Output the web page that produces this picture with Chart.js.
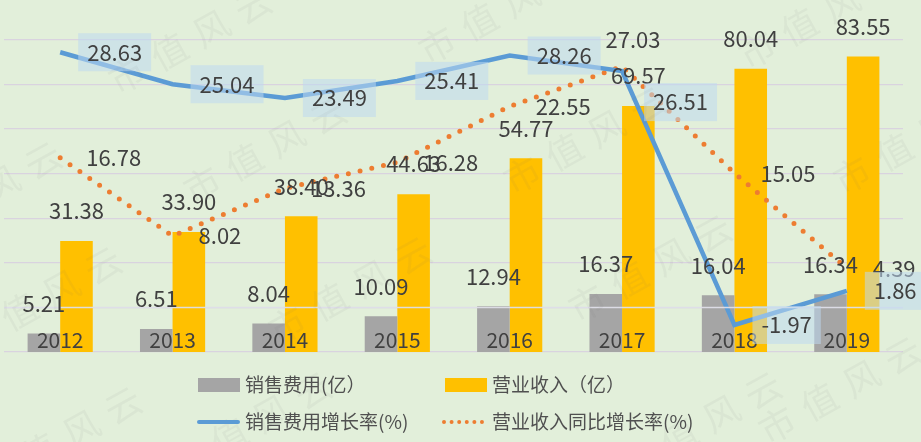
<!DOCTYPE html>
<html>
<head>
<meta charset="utf-8">
<script src="https://cdn.jsdelivr.net/npm/chart.js@4.4.1/dist/chart.umd.min.js"></script>
<style>
  html, body { margin: 0; padding: 0; background: #e2efda; }
  #wrap { position: relative; width: 921px; height: 442px; overflow: hidden; background: #e2efda; }
  #c { position: absolute; left: 0; top: 0; }
  .lg { position: absolute; font: 19px "Noto Sans CJK SC", sans-serif; color: #505050; line-height: 1; white-space: nowrap; }
  .sw { position: absolute; }
</style>
</head>
<body>
<div id="wrap">
  <canvas id="c" width="921" height="442"></canvas>
  <div id="legend"></div>
</div>
<script>
// data
const years = ["2012", "2013", "2014", "2015", "2016", "2017", "2018", "2019"];
const expense = [5.21, 6.51, 8.04, 10.09, 12.94, 16.37, 16.04, 16.34];
const revenue = [31.38, 33.90, 38.40, 44.63, 54.77, 69.57, 80.04, 83.55];
const expenseGrowth = [28.63, 25.04, 23.49, 25.41, 28.26, 26.51, -1.97, 1.86];
const revenueGrowth = [16.78, 8.02, 13.36, 16.28, 22.55, 27.03, 15.05, 4.39];

const seriesNames = ["销售费用(亿）", "营业收入（亿）", "销售费用增长率(%)", "营业收入同比增长率(%)"];

const numFont = '22px "Noto Sans CJK SC", sans-serif';
const textColor = "#404040";

// watermark spots (style only)
const marks = [[190, 40], [265, 150], [-20, 195], [40, 300], [350, 290], [585, 140],
  [650, 268], [820, 15], [915, 140], [500, 10], [840, 390], [250, 425], [700, 425], [60, 440]];

const labelPlugin = {
  id: "labels",
  afterDatasetsDraw(chart) {
    const ctx = chart.ctx;
    const area = chart.chartArea;
    const y1 = chart.scales.y1;
    const xs = chart.scales.x;

    // zero line of the percent axis runs over the bars
    ctx.save();
    ctx.strokeStyle = "rgba(222,222,232,0.95)";
    ctx.lineWidth = 1.5;
    const z = Math.round(y1.getPixelForValue(0)) + 0.5;
    ctx.beginPath();
    ctx.moveTo(area.left, z);
    ctx.lineTo(area.right, z);
    ctx.stroke();

    ctx.font = numFont;
    ctx.fillStyle = textColor;
    ctx.textBaseline = "middle";

    // bar labels
    [0, 1].forEach((di) => {
      const meta = chart.getDatasetMeta(di);
      const vals = chart.data.datasets[di].data;
      ctx.textAlign = "center";
      meta.data.forEach((bar, i) => {
        ctx.fillText(vals[i].toFixed(2), bar.x, bar.y - 30);
      });
    });

    // category labels sit inside the plot
    ctx.font = '21px "Noto Sans CJK SC", sans-serif';
    ctx.textAlign = "center";
    years.forEach((yr, i) => {
      ctx.fillText(yr, xs.getPixelForValue(i), area.bottom - 12);
    });

    ctx.font = numFont;

    // revenue growth labels (plain)
    const mR = chart.getDatasetMeta(3);
    mR.data.forEach((pt, i) => {
      const t = revenueGrowth[i].toFixed(2);
      if (i === 5) {
        ctx.textAlign = "center";
        ctx.fillText(t, pt.x + 11, pt.y - 27);
      } else {
        ctx.textAlign = "left";
        ctx.fillText(t, pt.x + 26, pt.y);
      }
    });

    // expense growth labels with boxes
    const mE = chart.getDatasetMeta(2);
    mE.data.forEach((pt, i) => {
      const t = expenseGrowth[i].toFixed(2);
      let bx = pt.x + 18, cy = pt.y;
      if (i === 5) { bx = pt.x + 22; cy = pt.y + 31; }
      const w = ctx.measureText(t).width + 18;
      ctx.fillStyle = "rgba(190,216,240,0.55)";
      ctx.fillRect(bx, cy - 19, w, 38);
      ctx.fillStyle = textColor;
      ctx.textAlign = "left";
      ctx.fillText(t, bx + 9, cy);
    });
    ctx.restore();
  },
  afterDraw(chart) {
    const ctx = chart.ctx;
    ctx.save();
    ctx.font = '36px "Noto Sans CJK SC", sans-serif';
    ctx.fillStyle = "rgba(110,110,110,0.06)";
    ctx.textAlign = "center";
    ctx.textBaseline = "middle";
    const a = -29 * Math.PI / 180;
    marks.forEach(([mx, my]) => {
      ctx.save();
      ctx.translate(mx, my);
      ctx.rotate(a);
      "市值风云".split("").forEach((ch, k) => ctx.fillText(ch, (k - 1.5) * 48, 0));
      ctx.restore();
    });
    ctx.restore();
  }
};

const chart = new Chart(document.getElementById("c"), {
  type: "bar",
  data: {
    labels: years,
    datasets: [
      {
        label: seriesNames[0],
        data: expense,
        backgroundColor: "#a5a5a5",
        yAxisID: "y",
        categoryPercentage: 0.58,
        barPercentage: 1.0,
        order: 3
      },
      {
        label: seriesNames[1],
        data: revenue,
        backgroundColor: "#ffc000",
        yAxisID: "y",
        categoryPercentage: 0.58,
        barPercentage: 1.0,
        order: 4
      },
      {
        type: "line",
        label: seriesNames[2],
        data: expenseGrowth,
        borderColor: "#5b9bd5",
        borderWidth: 4.5,
        pointRadius: 0,
        tension: 0,
        fill: false,
        yAxisID: "y1",
        order: 1
      },
      {
        type: "line",
        label: seriesNames[3],
        data: revenueGrowth,
        borderColor: "#ed7d31",
        borderWidth: 5,
        borderDash: [0, 12],
        borderCapStyle: "round",
        pointRadius: 0,
        tension: 0,
        fill: false,
        yAxisID: "y1",
        order: 2
      }
    ]
  },
  options: {
    responsive: false,
    animation: false,
    devicePixelRatio: 1,
    layout: { padding: { left: 4, right: 18, top: 40, bottom: 90 } },
    plugins: {
      legend: { display: false },
      tooltip: { enabled: false }
    },
    scales: {
      x: { display: false, offset: true },
      y: { display: false, min: 0, max: 88.2 },
      y1: {
        position: "right",
        min: -5,
        max: 30,
        ticks: { display: false, stepSize: 5 },
        grid: { color: "#d9d3df", lineWidth: 1.3, drawTicks: false },
        border: { display: false }
      }
    }
  },
  plugins: [labelPlugin]
});

// legend in two fixed columns, colours taken from the datasets
const legend = document.getElementById("legend");
const ds = chart.data.datasets;
const cells = [
  { x: 198, tx: 245, y: 385, kind: "box", d: ds[0] },
  { x: 445, tx: 492, y: 385, kind: "box", d: ds[1] },
  { x: 197, tx: 245, y: 422, kind: "line", d: ds[2] },
  { x: 442, tx: 492, y: 422, kind: "dot", d: ds[3] }
];
cells.forEach((c) => {
  const sw = document.createElement("div");
  sw.className = "sw";
  if (c.kind === "box") {
    Object.assign(sw.style, { left: c.x + "px", top: (c.y - 7) + "px", width: "42px", height: "14px", background: c.d.backgroundColor });
  } else if (c.kind === "line") {
    Object.assign(sw.style, { left: c.x + "px", top: (c.y - 2) + "px", width: "43px", height: "4px", borderRadius: "2px", background: c.d.borderColor });
  } else {
    Object.assign(sw.style, { left: c.x + "px", top: (c.y - 2) + "px", width: "42px", height: "0", borderTop: "4px dotted " + c.d.borderColor });
  }
  legend.appendChild(sw);
  const tx = document.createElement("div");
  tx.className = "lg";
  tx.textContent = c.d.label;
  Object.assign(tx.style, { left: c.tx + "px", top: (c.y - 11) + "px" });
  legend.appendChild(tx);
});
</script>
</body>
</html>
